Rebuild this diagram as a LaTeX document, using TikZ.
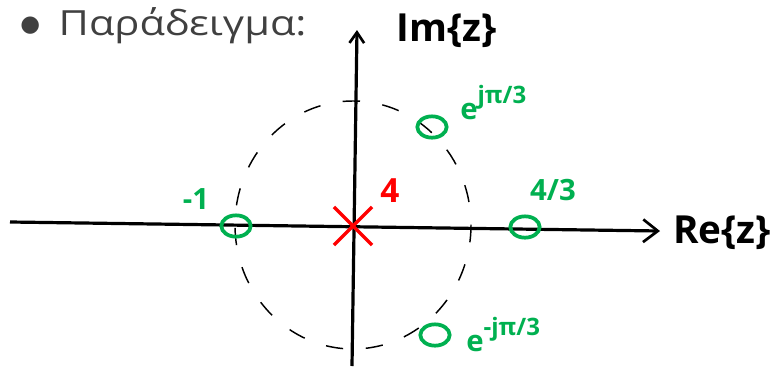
\documentclass[tikz,border=0pt]{standalone}
\usepackage{fontspec}
\setmainfont{Open Sans}
\newfontfamily\symfont{DejaVu Sans}
\usetikzlibrary{arrows.meta,shapes.geometric,shapes.misc}
\definecolor{hgreen}{RGB}{0,176,80}
\definecolor{titlegrey}{RGB}{64,64,64}
\tikzset{
  axisline/.style={line width=2.4pt, black},
  zero/.style={ellipse, draw=hgreen, line width=2.8pt, minimum width=22pt, minimum height=16pt, inner sep=0pt},
  pole/.style={cross out, draw=red, line width=2.6pt, minimum size=26pt, inner sep=0pt},
  glabel/.style={text=hgreen, font=\fontsize{22}{22}\selectfont\bfseries},
  blabel/.style={text=black, font=\fontsize{29}{29}\selectfont\bfseries},
  unitcirc/.style={black, line width=1.1pt, dash pattern=on 13pt off 17pt}
}
\begin{document}
\begin{tikzpicture}[x=0.75pt,y=-0.75pt]
\useasboundingbox (0,0) rectangle (776,372);
% title
\node[anchor=base west, text=titlegrey, font=\fontsize{26}{26}\selectfont, inner sep=0pt] (title) at (20,35) {\raisebox{3pt}{\symfont\fontsize{17}{17}\selectfont ●}\hspace{14pt}\scalebox{1.2}[1]{Παράδειγμα:}};
% unit circle
\draw[unitcirc] (353,225) ellipse [x radius=118, y radius=124];
% axes
\coordinate (xl) at (10,222);
\coordinate (xr) at (660,231);
\coordinate (yb) at (352,366);
\coordinate (yt) at (357,30);
\draw[axisline, -{Straight Barb[length=11pt, width=17pt, line width=2pt]}] (xl) -- (xr);
\draw[axisline, -{Straight Barb[length=8pt, width=11pt, line width=2pt]}] (yb) -- (yt);
\node[blabel] (re) at (722,233) {Re\{z\}};
\node[blabel] (im) at (447,31) {Im\{z\}};
% pole
\node[pole] (p) at (353,226) {};
\node[text=red, font=\fontsize{25}{25}\selectfont\bfseries] (pl) at (390,191) {4};
% zeros
\node[zero] (z1) at (236,226) {};
\node[zero] (z2) at (525,227) {};
\node[zero] (z3) at (432,127) {};
\node[zero] (z4) at (435,335) {};
\node[glabel] (l1) at (196,199) {-1};
\node[glabel] (l2) at (553,190) {4/3};
\node[glabel, anchor=south west, inner sep=0pt] (l3) at (460,120) {e\raisebox{1.0ex}{\fontsize{18}{18}\selectfont jπ/3}};
\node[glabel, anchor=south west, inner sep=0pt] (l4) at (466,352) {e\raisebox{1.0ex}{\fontsize{18}{18}\selectfont -jπ/3}};
\end{tikzpicture}
\end{document}
